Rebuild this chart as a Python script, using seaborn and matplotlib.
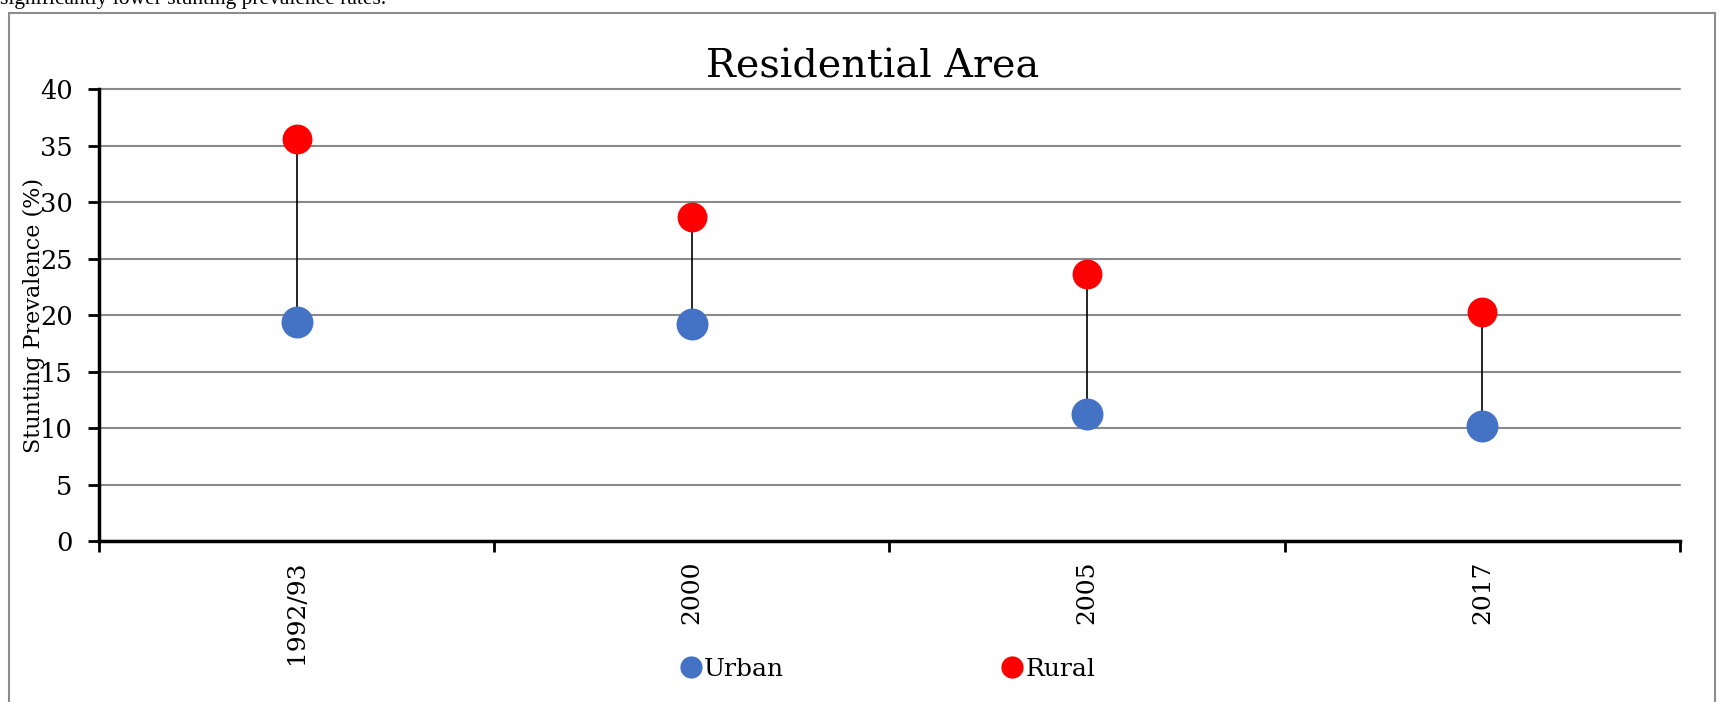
import matplotlib
matplotlib.use("Agg")
import matplotlib.pyplot as plt
from matplotlib.lines import Line2D
from matplotlib.patches import Rectangle
import seaborn as sns
import pandas as pd

# Survey rounds and stunting prevalence (%) by residential area
years = ["1992/93", "2000", "2005", "2017"]
urban = [19.4, 19.2, 11.2, 10.2]
rural = [35.6, 28.7, 23.6, 20.3]

URBAN_COLOR = "#4472C4"
RURAL_COLOR = "#FF0000"
GRID_COLOR = "#898989"

sns.set_theme(style="white")
plt.rcParams["font.family"] = ["DejaVu Serif"]
for key in ("text.color", "axes.labelcolor", "xtick.color", "ytick.color"):
    plt.rcParams[key] = "black"

urban_df = pd.DataFrame({"Year": years, "Prevalence": urban})
rural_df = pd.DataFrame({"Year": years, "Prevalence": rural})

fig = plt.figure(figsize=(17.22, 7.02), dpi=100)
ax = fig.add_axes([0.0575, 0.2293, 0.9181, 0.6439])

# Connector between urban and rural values in each survey round
ax.vlines(range(len(years)), urban, rural, color="black", linewidth=1.2, zorder=2)

sns.stripplot(data=urban_df, x="Year", y="Prevalence", order=years,
              color=URBAN_COLOR, jitter=False, size=23, linewidth=0, ax=ax, zorder=3)
sns.stripplot(data=rural_df, x="Year", y="Prevalence", order=years,
              color=RURAL_COLOR, jitter=False, size=21.5, linewidth=0, ax=ax, zorder=3)

ax.set_xlim(-0.5, len(years) - 0.5)
ax.set_ylim(0, 40)
ax.set_yticks(range(0, 41, 5))
ax.yaxis.grid(True, color=GRID_COLOR, linewidth=1.5)
ax.set_axisbelow(True)
for gl in ax.get_ygridlines():
    gl.set_clip_on(False)

# Category boundaries as major ticks, labels at category centres
ax.set_xticks([i - 0.5 for i in range(len(years) + 1)])
ax.set_xticklabels([])
ax.set_xticks(range(len(years)), minor=True)
ax.set_xticklabels(years, minor=True, rotation=90, fontsize=18)
ax.tick_params(axis="x", which="minor", bottom=True, length=0, pad=14)
ax.tick_params(axis="x", which="major", bottom=True, length=8, width=2,
               color="black", direction="out")
ax.tick_params(axis="y", which="major", left=True, length=8, width=2,
               color="black", direction="out", labelsize=18.5, pad=11)

for side in ("top", "right"):
    ax.spines[side].set_visible(False)
for side in ("left", "bottom"):
    ax.spines[side].set_color("black")
    ax.spines[side].set_linewidth(2.5)

ax.set_xlabel("")
ax.set_ylabel("Stunting Prevalence (%)", fontsize=16)
ax.yaxis.set_label_coords(-0.034, 0.5)

ax.set_title("Residential Area", fontsize=28.5, pad=8.6, x=0.4896)

handles = [
    Line2D([], [], marker="o", linestyle="", markersize=15, color=URBAN_COLOR, label="Urban"),
    Line2D([], [], marker="o", linestyle="", markersize=15, color=RURAL_COLOR, label="Rural"),
]
fig.legend(handles=handles, loc="center", bbox_to_anchor=(0.515, 0.046), ncol=2,
           frameon=False, fontsize=18, handletextpad=0.05, columnspacing=8.6,
           handlelength=1.0)

# Chart frame
fig.patches.append(Rectangle((9 / 1722, -0.1), (1715 - 9) / 1722, 1.1 - 13 / 702,
                             transform=fig.transFigure, fill=False,
                             edgecolor="#8C8C8C", linewidth=1.5))

# Trailing line of the preceding paragraph
fig.text(0.0, 1 - 4 / 702, "significantly lower stunting prevalence rates.",
         fontsize=15.5, va="baseline", ha="left", family=["Liberation Serif"])

fig.savefig("out.png", dpi=100)
